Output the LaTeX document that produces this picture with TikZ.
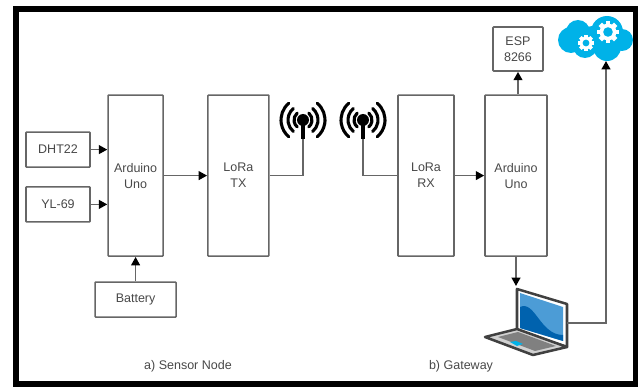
\documentclass[tikz,border=0pt]{standalone}
\usepackage{fontspec}
\setmainfont{Liberation Sans}
\usetikzlibrary{arrows.meta}
\definecolor{linegrey}{HTML}{666666}
\definecolor{textgrey}{HTML}{484848}
\definecolor{cloudblue}{HTML}{00B2E8}
\definecolor{screenblue}{HTML}{4C9CD6}
\definecolor{waveblue}{HTML}{0062AE}
\tikzset{
  blockbox/.style={draw=linegrey, line width=1.2pt, rounded corners=0.5pt, inner sep=0pt, align=center,
    text=textgrey, font=\fontsize{8.9}{11.4}\selectfont},
  flow/.style={draw=linegrey, line width=1.2pt, -{Triangle[color=black, length=0.21cm, width=0.22cm]}},
  wire/.style={draw=linegrey, line width=1.2pt},
  wavearc/.style={draw=black, line width=2.2pt, line cap=round},
  caption/.style={text=textgrey, font=\fontsize{8.9}{11.4}\selectfont}
}
\begin{document}
\begin{tikzpicture}
\useasboundingbox (0,0) rectangle (15.95,9.75);
\draw[line width=0.15cm] (0.4,0.1375) rectangle (15.9,9.525);

\node[blockbox, minimum width=1.6cm, minimum height=0.875cm] (DHT) at (1.45,6.01) {DHT22};
\node[blockbox, minimum width=1.6cm, minimum height=0.875cm] (YL) at (1.45,4.64) {YL-69};
\node[blockbox, minimum width=1.375cm, minimum height=4.025cm] (ArdS) at (3.39,5.36) {Arduino\\Uno};
\node[blockbox, minimum width=2.025cm, minimum height=0.875cm] (Bat) at (3.39,2.26) {Battery};
\node[blockbox, minimum width=1.525cm, minimum height=4.025cm] (LoTX) at (5.96,5.36) {LoRa\\TX};
\node[blockbox, minimum width=1.4cm, minimum height=4.025cm] (LoRX) at (10.65,5.36) {LoRa\\RX};
\node[blockbox, minimum width=1.55cm, minimum height=4.025cm] (ArdG) at (12.9,5.36) {Arduino\\Uno};
\node[blockbox, minimum width=1.25cm, minimum height=1.1cm] (ESP) at (12.95,8.525) {ESP\\8266};

\node[caption] (CapS) at (4.7,0.6) {a) Sensor Node};
\node[caption] (CapG) at (11.525,0.6) {b) Gateway};

\coordinate (AntT) at (7.575,6.75);
\coordinate (AntR) at (9.075,6.75);
\coordinate (Cloud) at (15.15,8.225);
\coordinate (LapTop) at (12.9,2.6);
\coordinate (LapSide) at (14.175,1.675);

% cloud
\fill[cloudblue] (14.275,8.75) circle (0.325) (14.45,8.95) circle (0.3)
  (15.175,8.95) circle (0.4) (15.55,8.75) circle (0.275)
  (15.175,8.575) circle (0.35) (14.625,8.6) circle (0.3) (14.8,8.8) circle (0.3);
\fill[white] (14.65,8.675) circle (0.16);
\fill[white] (15.2,8.95) circle (0.21);
\foreach \t in {0,45,...,315} {
  \fill[white, shift={(14.65,8.675)}, rotate=\t] (0.1,-0.045) rectangle (0.2,0.045);
  \fill[white, shift={(15.2,8.95)}, rotate=\t] (0.14,-0.06) rectangle (0.27,0.06);
}
\fill[cloudblue] (14.65,8.675) circle (0.085);
\fill[cloudblue] (15.2,8.95) circle (0.12);

% laptop
\draw[fill=white, draw=black!75, line width=1.8pt, line join=round] (12.925,2.525) -- (14.175,2.15) -- (14.175,1.075) -- (12.925,1.5) -- cycle;
\fill[screenblue] (13,2.425) -- (14.075,2.075) -- (14.075,1.225) -- (13,1.55) -- cycle;
\fill[waveblue] (13,2.075) .. controls (13.375,2.25) and (13.5,1.375) .. (14.075,1.375) -- (14.075,1.225) -- (13,1.55) -- cycle;
\draw[fill=black!18, draw=black!75, line width=1.8pt, line join=round] (12.125,1.325) -- (12.925,1.525) -- (14.175,1.075) -- (13.325,0.875) -- cycle;
\fill[black!50] (12.45,1.325) -- (12.95,1.45) -- (13.9,1.1) -- (13.375,0.975) -- cycle;
\fill[cloudblue] (12.75,1.2) -- (12.9,1.225) -- (13.075,1.15) -- (12.925,1.1) -- cycle;

% connectors
\draw (DHT.east) edge[flow] (DHT.east -| ArdS.west);
\draw (YL.east) edge[flow] (YL.east -| ArdS.west);
\draw (Bat) edge[flow] (ArdS);
\draw (ArdS) edge[flow] (LoTX);
\draw (LoRX) edge[flow] (ArdG);
\draw (ESP.south |- ArdG.north) edge[flow] (ESP.south);
\draw (ArdG.south) edge[flow] (LapTop);
\draw[wire] (LoTX.east) -| (AntT);
\draw[wire] (LoRX.west) -| (AntR);
\draw[flow] (LapSide) -| (Cloud);

% antennas
\foreach \a in {AntT,AntR} {
  \fill (\a) circle (0.15);
  \draw[line width=0.1cm] (\a) -- ++(0,-0.475);
  \foreach \r in {0.225,0.375,0.55} {
    \draw[wavearc, shift={(\a)}] (50:\r) arc (50:-50:\r);
    \draw[wavearc, shift={(\a)}] (130:\r) arc (130:230:\r);
  }
}
\end{tikzpicture}
\end{document}
